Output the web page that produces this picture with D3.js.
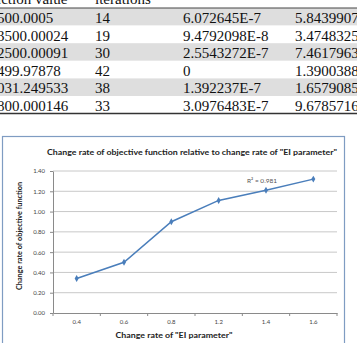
<!DOCTYPE html>
<html><head><meta charset="utf-8">
<script src="https://cdn.jsdelivr.net/npm/d3@7"></script>
<style>html,body{margin:0;padding:0;background:#fff;overflow:hidden}</style>
</head><body>
<svg id="c" width="357" height="343"></svg>
<script>
// ---- table data (top crop of a table) ----
const tableHeader = ["iction value", "iterations", "", ""];
const colFunction = ["500.0005", "3500.00024", "2500.00091", "499.97878", "031.249533", "800.000146"];
const colIterations = ["14", "19", "30", "42", "38", "33"];
const colError = ["6.072645E-7", "9.4792098E-8", "2.5543272E-7", "0", "1.392237E-7", "3.0976483E-7"];
const colLast = ["5.8439907", "3.4748325", "7.4617963", "1.3900388", "1.6579085", "9.6785716"];

// ---- chart data ----
const categories = ["0.4", "0.6", "0.8", "1.2", "1.4", "1.6"];
const values = [0.34, 0.50, 0.90, 1.11, 1.21, 1.32];
const yTicks = [0, 0.2, 0.4, 0.6, 0.8, 1.0, 1.2, 1.4];
const chartTitle = 'Change rate of objective function relative to change rate of "EI parameter"';
const xTitle = 'Change rate of "EI parameter"';
const yTitle = 'Change rate of objective function';
const r2Label = "R\u00B2 = 0.981";

const svg = d3.select("#c");
svg.append("rect").attr("width", 357).attr("height", 343).attr("fill", "#fff");

// ---- table ----
const rowH = 17.6, tTop = 8;
const colX = [-3, 95, 183, 295];
const tg = svg.append("g").attr("font-family", "'Liberation Serif', 'Times New Roman', serif")
  .attr("font-size", 15).attr("fill", "#111");
const rows = d3.range(colFunction.length).map(i => [colFunction[i], colIterations[i], colError[i], colLast[i]]);
tg.selectAll("rect.band").data(rows).join("rect")
  .attr("x", 0).attr("width", 357)
  .attr("y", (d, i) => tTop + i * rowH).attr("height", rowH)
  .attr("fill", (d, i) => i % 2 === 0 ? "#dedede" : "#fff");
tg.selectAll("text.h").data(tableHeader).join("text")
  .attr("x", (d, i) => colX[i]).attr("y", 4).text(d => d);
rows.forEach((r, i) => {
  tg.selectAll(null).data(r).join("text")
    .attr("x", (d, j) => colX[j]).attr("y", tTop + i * rowH + 15).text(d => d);
});
tg.append("line").attr("x1", 0).attr("x2", 357).attr("y1", tTop).attr("y2", tTop)
  .attr("stroke", "#444").attr("stroke-width", 1);
tg.append("line").attr("x1", 0).attr("x2", 357).attr("y1", tTop + 6 * rowH).attr("y2", tTop + 6 * rowH)
  .attr("stroke", "#333").attr("stroke-width", 1.5);

// ---- chart ----
const plot = {left: 53, right: 337, top: 171, bottom: 313};
svg.append("rect").attr("x", 2.5).attr("y", 136.5).attr("width", 342).attr("height", 220)
  .attr("fill", "#fff").attr("stroke", "#7f9cc2").attr("stroke-width", 1.2);

const x = d3.scaleBand().domain(categories).range([plot.left, plot.right]).padding(0);
const y = d3.scaleLinear().domain([0, 1.4]).range([plot.bottom, plot.top]);

const font = "Lato, 'Open Sans', sans-serif";

// gridlines
svg.append("g").selectAll("line").data(yTicks.filter(t => t > 0)).join("line")
  .attr("x1", plot.left).attr("x2", plot.right)
  .attr("y1", d => y(d)).attr("y2", d => y(d))
  .attr("stroke", "#c8c8c8").attr("stroke-width", 1);

// y axis
const yAxis = svg.append("g").attr("transform", `translate(${plot.left},0)`)
  .call(d3.axisLeft(y).tickValues(yTicks).tickFormat(d3.format(".2f")).tickSizeInner(3).tickSizeOuter(0).tickPadding(5));
yAxis.select(".domain").attr("stroke", "#8a8a8a");
yAxis.selectAll(".tick line").attr("stroke", "#8a8a8a");
yAxis.selectAll("text").attr("font-family", font).attr("font-size", 6).attr("fill", "#444");

// x axis
const xAxis = svg.append("g").attr("transform", `translate(0,${plot.bottom})`)
  .call(d3.axisBottom(x).tickSize(0).tickPadding(7));
xAxis.select(".domain").attr("stroke", "#8a8a8a");
xAxis.selectAll("text").attr("font-family", font).attr("font-size", 6).attr("fill", "#444");
// boundary ticks between categories
const bounds = categories.map(c => x(c)).concat([x(categories[categories.length - 1]) + x.bandwidth()]);
svg.append("g").selectAll("line").data(bounds).join("line")
  .attr("x1", d => d).attr("x2", d => d).attr("y1", plot.bottom).attr("y2", plot.bottom + 3)
  .attr("stroke", "#8a8a8a");

// line + markers
const cx = (d, i) => x(categories[i]) + x.bandwidth() / 2;
const line = d3.line().x((d, i) => cx(d, i)).y(d => y(d));
svg.append("path").datum(values).attr("d", line)
  .attr("fill", "none").attr("stroke", "#4a7ebb").attr("stroke-width", 1.5);
svg.append("g").selectAll("path").data(values).join("path")
  .attr("d", d3.symbol(d3.symbolDiamond, 14))
  .attr("transform", (d, i) => `translate(${cx(d, i)},${y(d)})`)
  .attr("fill", "#4a7ebb");

// titles
svg.append("text").attr("x", 192).attr("y", 155).attr("text-anchor", "middle")
  .attr("font-family", font).attr("font-weight", "bold").attr("font-size", 8)
  .attr("textLength", 290).attr("lengthAdjust", "spacingAndGlyphs")
  .attr("fill", "#222").text(chartTitle);
svg.append("text").attr("x", 174).attr("y", 338).attr("text-anchor", "middle")
  .attr("font-family", font).attr("font-weight", "bold").attr("font-size", 8)
  .attr("textLength", 117).attr("lengthAdjust", "spacingAndGlyphs")
  .attr("fill", "#222").text(xTitle);
svg.append("text").attr("transform", "translate(22,236) rotate(-90)").attr("text-anchor", "middle")
  .attr("font-family", font).attr("font-weight", "bold").attr("font-size", 8)
  .attr("textLength", 108).attr("lengthAdjust", "spacingAndGlyphs")
  .attr("fill", "#222").text(yTitle);
svg.append("text").attr("x", 262).attr("y", 183).attr("text-anchor", "middle")
  .attr("font-family", font).attr("font-size", 6.5).attr("fill", "#555").text(r2Label);
</script>
</body></html>
